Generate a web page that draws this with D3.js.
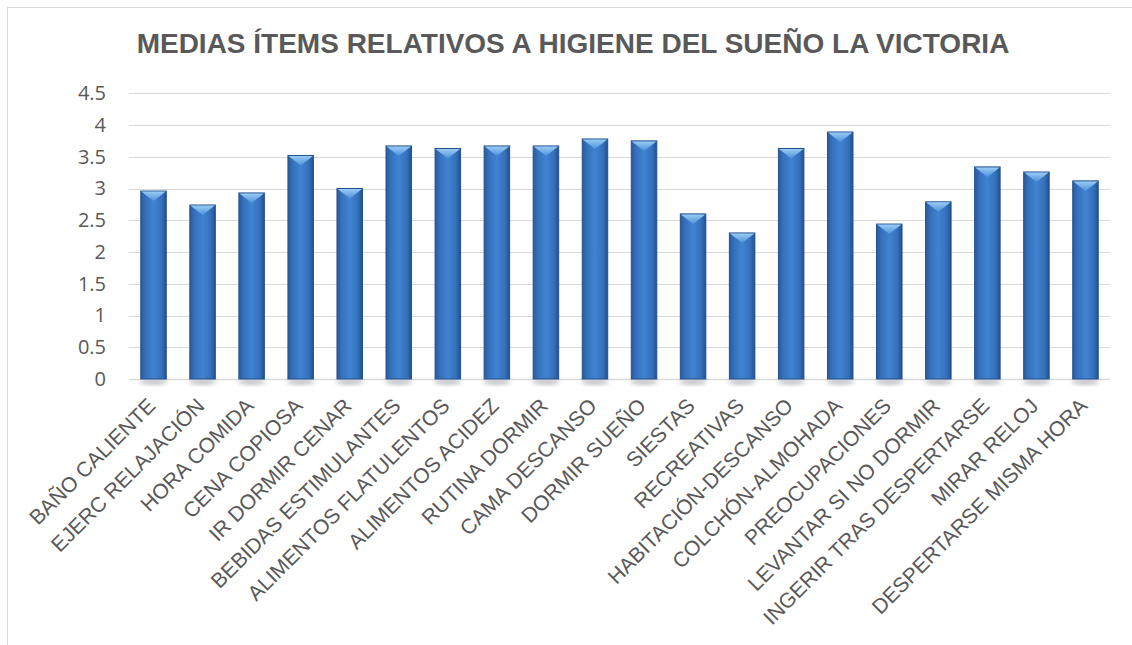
<!DOCTYPE html>
<html lang="es">
<head>
    <meta charset="UTF-8">
    <title>Medias ítems higiene del sueño</title>
    <style>
        body, html {
            margin: 0;
            padding: 0;
            background: #fff;
        }
        #chart svg {
            display: block;
        }
        .title {
            font-family: "Liberation Sans", Arial, sans-serif;
            font-weight: bold;
            fill: #595959;
        }
        .y-axis text {
            font-family: "Open Sans", "Liberation Sans", sans-serif;
            font-size: 20px;
            fill: #595959;
        }
        .x-axis text {
            font-family: "Liberation Sans", Arial, sans-serif;
            font-size: 21px;
            fill: #595959;
        }
    </style>
    <script src="https://d3js.org/d3.v7.min.js"></script>
</head>
<body>
    <div id="chart"></div>
    <script>
        const items = [
            "BAÑO CALIENTE", "EJERC RELAJACIÓN", "HORA COMIDA", "CENA COPIOSA",
            "IR DORMIR CENAR", "BEBIDAS ESTIMULANTES", "ALIMENTOS FLATULENTOS",
            "ALIMENTOS ACIDEZ", "RUTINA DORMIR", "CAMA DESCANSO", "DORMIR SUEÑO",
            "SIESTAS", "RECREATIVAS", "HABITACIÓN-DESCANSO", "COLCHÓN-ALMOHADA",
            "PREOCUPACIONES", "LEVANTAR SI NO DORMIR", "INGERIR TRAS DESPERTARSE",
            "MIRAR RELOJ", "DESPERTARSE MISMA HORA"
        ];
        const medias = [
            2.96, 2.74, 2.93, 3.52, 3.0, 3.67, 3.63,
            3.67, 3.67, 3.78, 3.75,
            2.6, 2.3, 3.63, 3.89,
            2.44, 2.79, 3.34,
            3.26, 3.12
        ];
        const yTicks = [0, 0.5, 1, 1.5, 2, 2.5, 3, 3.5, 4, 4.5];
        const titulo = "MEDIAS ÍTEMS RELATIVOS A HIGIENE DEL SUEÑO LA VICTORIA";

        const width = 1132, height = 645;
        const margin = { left: 129, right: 22, top: 93, bottom: 266 };

        const svg = d3.select("#chart").append("svg")
            .attr("width", width)
            .attr("height", height);

        // chart frame (only top/left visible in the picture)
        svg.append("rect")
            .attr("x", 7.5).attr("y", 7.5)
            .attr("width", 1300).attr("height", 800)
            .attr("fill", "none")
            .attr("stroke", "#d9d9d9");

        const defs = svg.append("defs");
        const grad = defs.append("linearGradient")
            .attr("id", "barGrad")
            .attr("x1", "0%").attr("x2", "100%")
            .attr("y1", "0%").attr("y2", "0%");
        grad.append("stop").attr("offset", "0%").attr("stop-color", "#2a5a9c");
        grad.append("stop").attr("offset", "18%").attr("stop-color", "#3570bb");
        grad.append("stop").attr("offset", "50%").attr("stop-color", "#4183d2");
        grad.append("stop").attr("offset", "82%").attr("stop-color", "#3570bb");
        grad.append("stop").attr("offset", "100%").attr("stop-color", "#22508f");

        const capGrad = defs.append("linearGradient")
            .attr("id", "capGrad")
            .attr("x1", "0%").attr("x2", "0%")
            .attr("y1", "0%").attr("y2", "100%");
        capGrad.append("stop").attr("offset", "0%").attr("stop-color", "#9fd0f6");
        capGrad.append("stop").attr("offset", "100%").attr("stop-color", "#4d93dd");

        const shadow = defs.append("filter").attr("id", "blur")
            .attr("x", "-50%").attr("y", "-50%").attr("width", "200%").attr("height", "200%");
        shadow.append("feGaussianBlur").attr("stdDeviation", 2);

        const x = d3.scaleBand()
            .domain(items)
            .range([margin.left, width - margin.right])
            .paddingInner(0.48)
            .paddingOuter(0.24);

        const y = d3.scaleLinear()
            .domain([0, 4.5])
            .range([height - margin.bottom, margin.top + 0.25]);

        // title
        svg.append("text")
            .attr("class", "title")
            .attr("x", 573)
            .attr("y", 53)
            .attr("text-anchor", "middle")
            .attr("font-size", 28)
            .text(titulo);

        // gridlines
        svg.append("g")
            .selectAll("line")
            .data(yTicks)
            .join("line")
            .attr("x1", margin.left)
            .attr("x2", width - margin.right)
            .attr("y1", d => Math.round(y(d)) + 0.5)
            .attr("y2", d => Math.round(y(d)) + 0.5)
            .attr("stroke", "#d9d9d9")
            .attr("stroke-width", d => d === 0 ? 1.5 : 1);

        // y axis labels
        const yAxis = svg.append("g")
            .attr("class", "y-axis")
            .attr("transform", `translate(${margin.left - 23},0)`)
            .call(d3.axisLeft(y).tickValues(yTicks).tickSize(0).tickPadding(0)
                .tickFormat(d3.format("")));
        yAxis.select(".domain").remove();

        // bar shadows
        svg.append("g")
            .selectAll("ellipse")
            .data(medias)
            .join("ellipse")
            .attr("cx", (d, i) => x(items[i]) + x.bandwidth() / 2)
            .attr("cy", y(0) + 3)
            .attr("rx", x.bandwidth() / 2 + 1)
            .attr("ry", 2.5)
            .attr("fill", "#b9bcc2")
            .attr("filter", "url(#blur)");

        // bars
        const bars = svg.append("g")
            .selectAll("g")
            .data(medias)
            .join("g");

        bars.append("rect")
            .attr("x", (d, i) => x(items[i]))
            .attr("y", d => y(d))
            .attr("width", x.bandwidth())
            .attr("height", d => y(0) - y(d))
            .attr("fill", "url(#barGrad)")
            .attr("stroke", "#24518f")
            .attr("stroke-width", 1);

        bars.append("path")
            .attr("d", (d, i) => {
                const x0 = x(items[i]), x1 = x0 + x.bandwidth();
                const cx = x0 + x.bandwidth() / 2, top = y(d);
                return `M${x0 + 0.5},${top + 0.5} L${x1 - 0.5},${top + 0.5} L${x1 - 5},${top + 4} L${cx},${top + 10} L${x0 + 5},${top + 4} Z`;
            })
            .attr("fill", "url(#capGrad)")
            .attr("opacity", 0.95);

        // x axis labels
        svg.append("g")
            .attr("class", "x-axis")
            .selectAll("text")
            .data(items)
            .join("text")
            .attr("transform", d => `translate(${x(d) + x.bandwidth() / 2 - 2},${y(0) + 23}) rotate(-45)`)
            .attr("text-anchor", "end")
            .attr("dy", "0.35em")
            .text(d => d);
    </script>
</body>
</html>
